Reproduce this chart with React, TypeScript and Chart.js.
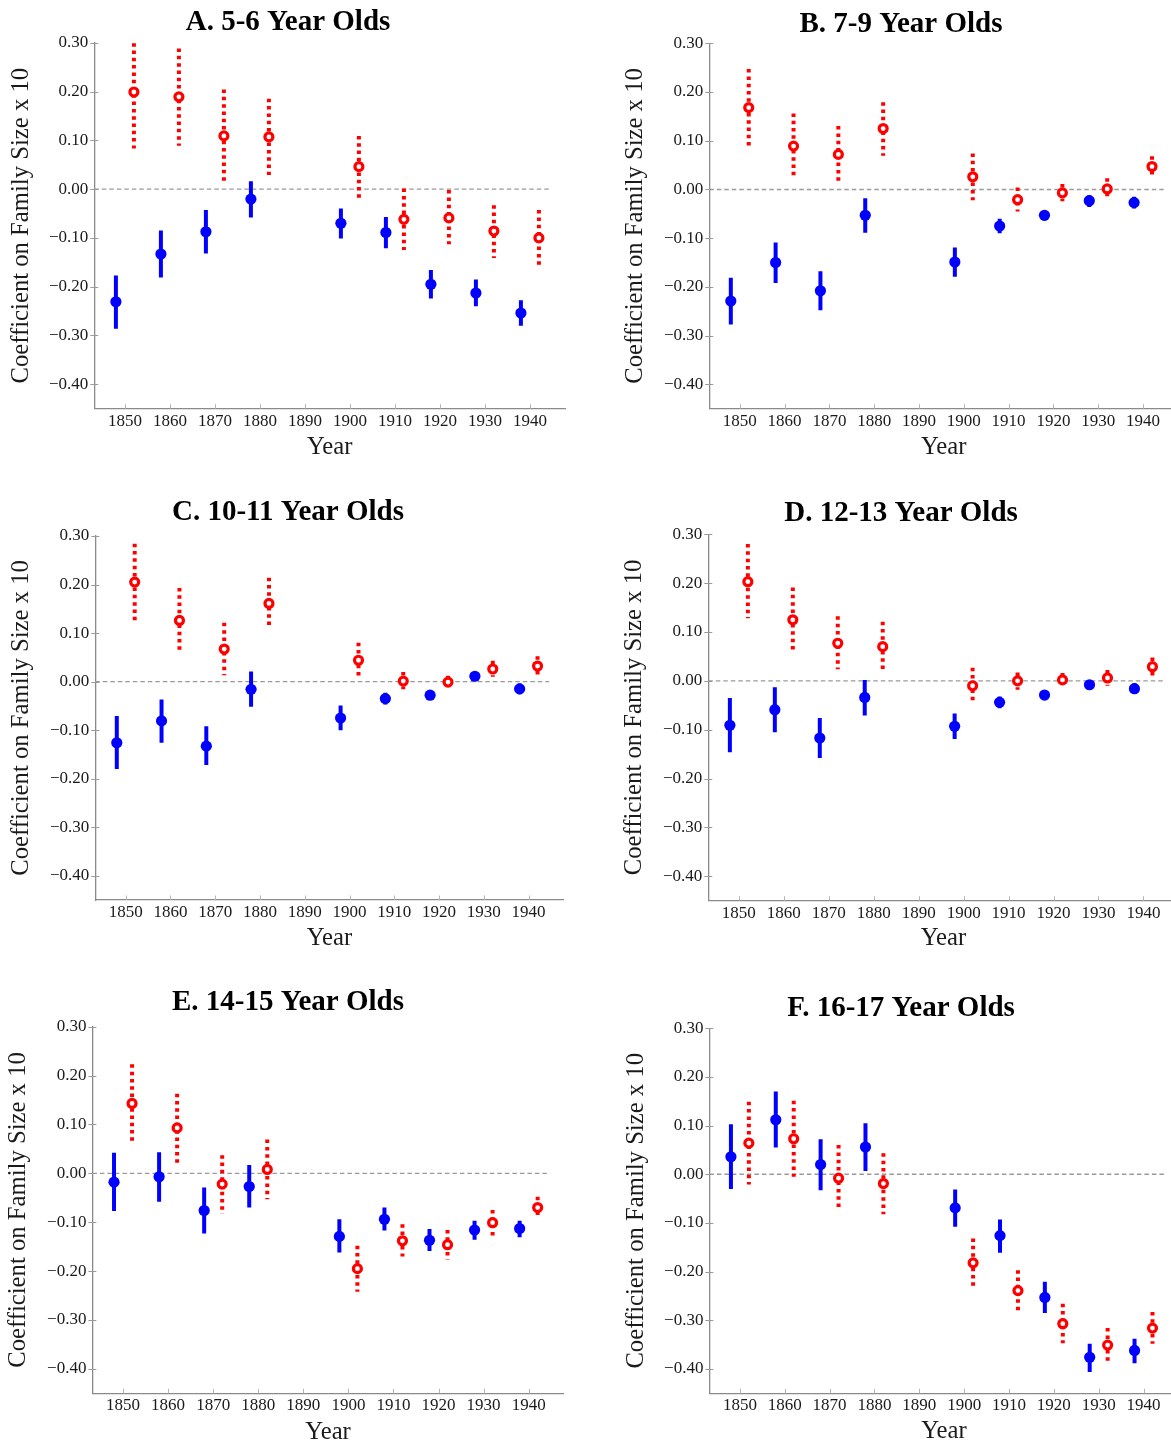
import React, { useEffect, useRef } from "react";
import { Chart, registerables } from "chart.js";

Chart.register(...registerables);

// ---------- data ----------
const blueYears = [1848, 1858, 1868, 1878, 1898, 1908, 1918, 1928, 1938];
const redYears = [1852, 1862, 1872, 1882, 1902, 1912, 1922, 1932, 1942];
const xTicks = [1850, 1860, 1870, 1880, 1890, 1900, 1910, 1920, 1930, 1940];
const yTicks = [0.3, 0.2, 0.1, 0, -0.1, -0.2, -0.3, -0.4];
const titles = [
  "A. 5-6 Year Olds",
  "B. 7-9 Year Olds",
  "C. 10-11 Year Olds",
  "D. 12-13 Year Olds",
  "E. 14-15 Year Olds",
  "F. 16-17 Year Olds",
];
const yAxisTitle = "Coefficient on Family Size x 10";
const xAxisTitle = "Year";

// Panel A
const aBlue = [-0.231, -0.133, -0.0875, -0.0205, -0.07, -0.089, -0.195, -0.213, -0.254];
const aBlueHi = [-0.177, -0.085, -0.043, 0.016, -0.04, -0.057, -0.166, -0.185, -0.228];
const aBlueLo = [-0.286, -0.181, -0.132, -0.058, -0.101, -0.121, -0.224, -0.24, -0.28];
const aRed = [0.199, 0.189, 0.109, 0.107, 0.046, -0.062, -0.059, -0.086, -0.1];
const aRedHi = [0.299, 0.288, 0.204, 0.185, 0.109, 0.001, -0.002, -0.033, -0.043];
const aRedLo = [0.083, 0.089, 0.014, 0.029, -0.018, -0.125, -0.113, -0.141, -0.157];

// Panel B
const bBlue = [-0.229, -0.15, -0.208, -0.053, -0.149, -0.075, -0.053, -0.023, -0.027];
const bBlueHi = [-0.181, -0.109, -0.168, -0.018, -0.119, -0.06, -0.044, -0.012, -0.015];
const bBlueLo = [-0.277, -0.192, -0.248, -0.089, -0.179, -0.09, -0.063, -0.036, -0.039];
const bRed = [0.168, 0.089, 0.072, 0.125, 0.026, -0.021, -0.007, 0.001, 0.047];
const bRedHi = [0.247, 0.156, 0.13, 0.179, 0.074, 0.004, 0.011, 0.023, 0.068];
const bRedLo = [0.089, 0.023, 0.014, 0.069, -0.022, -0.045, -0.024, -0.022, 0.025];

// Panel C
const cBlue = [-0.126, -0.081, -0.133, -0.016, -0.075, -0.035, -0.028, 0.011, -0.015];
const cBlueHi = [-0.071, -0.037, -0.092, 0.021, -0.049, -0.023, -0.019, 0.02, -0.004];
const cBlueLo = [-0.18, -0.126, -0.172, -0.052, -0.1, -0.047, -0.037, 0.003, -0.026];
const cRed = [0.205, 0.126, 0.067, 0.161, 0.044, 0.001, -0.001, 0.026, 0.032];
const cRedHi = [0.284, 0.193, 0.121, 0.214, 0.08, 0.02, 0.012, 0.043, 0.052];
const cRedLo = [0.126, 0.06, 0.013, 0.111, 0.008, -0.016, -0.014, 0.01, 0.012];

// Panel D
const dBlue = [-0.091, -0.059, -0.117, -0.034, -0.093, -0.044, -0.029, -0.008, -0.016];
const dBlueHi = [-0.035, -0.013, -0.076, 0.002, -0.067, -0.032, -0.02, 0.0, -0.005];
const dBlueLo = [-0.146, -0.105, -0.158, -0.071, -0.119, -0.056, -0.037, -0.016, -0.027];
const dRed = [0.203, 0.125, 0.077, 0.07, -0.01, 0.0, 0.002, 0.006, 0.029];
const dRedHi = [0.28, 0.191, 0.132, 0.121, 0.027, 0.017, 0.016, 0.022, 0.048];
const dRedLo = [0.128, 0.059, 0.024, 0.019, -0.046, -0.018, -0.012, -0.01, 0.011];

// Panel E
const eBlue = [-0.018, -0.007, -0.076, -0.027, -0.129, -0.094, -0.137, -0.116, -0.113];
const eBlueHi = [0.042, 0.043, -0.029, 0.017, -0.094, -0.07, -0.114, -0.097, -0.097];
const eBlueLo = [-0.077, -0.058, -0.123, -0.07, -0.162, -0.117, -0.159, -0.136, -0.131];
const eRed = [0.143, 0.093, -0.022, 0.008, -0.195, -0.138, -0.146, -0.101, -0.07];
const eRedHi = [0.223, 0.163, 0.037, 0.069, -0.148, -0.104, -0.116, -0.075, -0.048];
const eRedLo = [0.063, 0.02, -0.083, -0.053, -0.242, -0.17, -0.177, -0.127, -0.092];

// Panel F
const fBlue = [0.036, 0.112, 0.02, 0.056, -0.069, -0.126, -0.253, -0.376, -0.362];
const fBlueHi = [0.103, 0.17, 0.072, 0.105, -0.031, -0.093, -0.221, -0.348, -0.338];
const fBlueLo = [-0.03, 0.055, -0.033, 0.007, -0.108, -0.161, -0.285, -0.406, -0.388];
const fRed = [0.064, 0.073, -0.008, -0.019, -0.182, -0.239, -0.307, -0.351, -0.316];
const fRedHi = [0.149, 0.151, 0.06, 0.043, -0.132, -0.197, -0.266, -0.316, -0.283];
const fRedLo = [-0.021, -0.005, -0.075, -0.082, -0.23, -0.281, -0.347, -0.388, -0.348];

const X_MIN = 1843.2;
const X_MAX = 1947.8;
const ZERO_END = 1944.6;
const Y_MIN = -0.45;
const Y_MAX = 0.3;

const panelData = [
  { blue: aBlue, blueHi: aBlueHi, blueLo: aBlueLo, red: aRed, redHi: aRedHi, redLo: aRedLo },
  { blue: bBlue, blueHi: bBlueHi, blueLo: bBlueLo, red: bRed, redHi: bRedHi, redLo: bRedLo },
  { blue: cBlue, blueHi: cBlueHi, blueLo: cBlueLo, red: cRed, redHi: cRedHi, redLo: cRedLo },
  { blue: dBlue, blueHi: dBlueHi, blueLo: dBlueLo, red: dRed, redHi: dRedHi, redLo: dRedLo },
  { blue: eBlue, blueHi: eBlueHi, blueLo: eBlueLo, red: eRed, redHi: eRedHi, redLo: eRedLo },
  { blue: fBlue, blueHi: fBlueHi, blueLo: fBlueLo, red: fRed, redHi: fRedHi, redLo: fRedLo },
];

// ---------- layout / style ----------
const CANVAS_H = 470;
const geom = [
  { left: 0, top: 0, w: 576, tc: 288, area: { l: 94.3, t: 42.7, r: 565, b: 408.7 }, titleY: 22.5, yTitleX: 21.3, xTitleY: 447.5 },
  { left: 612, top: 0, w: 578, tc: 289, area: { l: 97.3, t: 43.3, r: 566, b: 408.7 }, titleY: 24.5, yTitleX: 24, xTitleY: 447.3 },
  { left: 0, top: 490, w: 576, tc: 288, area: { l: 95.3, t: 46, r: 563.5, b: 410 }, titleY: 22.5, yTitleX: 22, xTitleY: 449 },
  { left: 612, top: 490, w: 578, tc: 289, area: { l: 96.3, t: 44.3, r: 566.5, b: 410.7 }, titleY: 24, yTitleX: 22.8, xTitleY: 449 },
  { left: 0, top: 980, w: 576, tc: 288, area: { l: 92.4, t: 46.7, r: 563.8, b: 413.3 }, titleY: 22.5, yTitleX: 19, xTitleY: 452.3 },
  { left: 612, top: 980, w: 578, tc: 289, area: { l: 97.4, t: 48.3, r: 566.5, b: 413.3 }, titleY: 28.3, yTitleX: 24.6, xTitleY: 452 },
];

const BLUE = "#0000ff";
const RED = "#ff0000";
const AXIS = "#8a8a8a";
const SERIF = "'Liberation Serif', 'DejaVu Serif', serif";
const TITLE_SIZE = 29;
const TICK_SIZE = 17;
const AXIS_TITLE_SIZE = 24.7;
const Y_TITLE_LH = 0.4;

const fmtY = (v: number) => {
  const r = Math.round(v * 100) / 100;
  if (Math.abs(r) < 1e-9) return "0.00";
  return (r < 0 ? "\u2212" : "") + Math.abs(r).toFixed(2);
};

const tickMarks = {
  id: "tickMarks",
  beforeDatasetsDraw(chart: any) {
    const { ctx, chartArea, scales } = chart;
    ctx.save();
    ctx.strokeStyle = "#b5b5b5";
    ctx.lineWidth = 1;
    xTicks.forEach((v) => {
      const px = Math.round(scales.x.getPixelForValue(v)) + 0.5;
      ctx.beginPath();
      ctx.moveTo(px, chartArea.bottom);
      ctx.lineTo(px, chartArea.bottom - 4.5);
      ctx.stroke();
    });
    ctx.strokeStyle = "#9a9a9a";
    yTicks.forEach((v) => {
      const py = Math.round(scales.y.getPixelForValue(v)) + 0.5;
      ctx.beginPath();
      ctx.moveTo(chartArea.left - 4, py);
      ctx.lineTo(chartArea.left + 4, py);
      ctx.stroke();
    });
    ctx.restore();
  },
};

function buildDatasets(p: any) {
  const ds: any[] = [];
  ds.push({
    data: blueYears.map((x, i) => ({ x, y: p.blue[i] })),
    pointStyle: "circle",
    pointRadius: 5.6,
    pointBackgroundColor: BLUE,
    pointBorderColor: BLUE,
    pointBorderWidth: 0,
    showLine: false,
    order: 0,
  });
  ds.push({
    data: redYears.map((x, i) => ({ x, y: p.red[i] })),
    pointStyle: "circle",
    pointRadius: 4,
    pointBackgroundColor: "#ffffff",
    pointBorderColor: RED,
    pointBorderWidth: 3.2,
    showLine: false,
    order: 0,
  });
  blueYears.forEach((x, i) => {
    ds.push({
      data: [
        { x, y: p.blueHi[i] },
        { x, y: p.blueLo[i] },
      ],
      showLine: true,
      borderColor: BLUE,
      borderWidth: 4,
      borderCapStyle: "butt",
      pointRadius: 0,
      order: 1,
    });
  });
  redYears.forEach((x, i) => {
    ds.push({
      data: [
        { x, y: p.redHi[i] },
        { x, y: p.redLo[i] },
      ],
      showLine: true,
      borderColor: RED,
      borderWidth: 4,
      borderDash: [3.5, 3.8],
      borderCapStyle: "butt",
      pointRadius: 0,
      order: 1,
    });
  });
  ds.push({
    data: [
      { x: X_MIN, y: 0 },
      { x: ZERO_END, y: 0 },
    ],
    showLine: true,
    borderColor: "#9a9a9a",
    borderWidth: 1.4,
    borderDash: [4.5, 3],
    pointRadius: 0,
    order: 2,
  });
  return ds;
}

function Panel({ index }: { index: number }) {
  const ref = useRef<HTMLCanvasElement | null>(null);
  const g = geom[index];
  useEffect(() => {
    if (!ref.current) return;
    const titleLH = TITLE_SIZE * 1.2;
    const t1 = g.titleY - titleLH / 2;
    const t2 = g.area.t - t1 - titleLH;
    const padR = g.w - g.area.r;
    const padL = 2 * g.tc - g.area.r;
    const chart = new Chart(ref.current, {
      type: "scatter",
      data: { datasets: buildDatasets(panelData[index]) },
      options: {
        responsive: false,
        animation: false,
        devicePixelRatio: 1,
        events: [],
        layout: { padding: { left: padL, top: 0, bottom: 0, right: padR } },
        plugins: {
          legend: { display: false },
          tooltip: { enabled: false },
          title: {
            display: true,
            text: titles[index],
            color: "#000",
            font: { family: SERIF, size: TITLE_SIZE, weight: "bold", lineHeight: 1.2 },
            padding: { top: t1, bottom: t2 },
          },
        },
        scales: {
          x: {
            type: "linear",
            min: X_MIN,
            max: X_MAX,
            afterBuildTicks: (s: any) => {
              s.ticks = xTicks.map((v) => ({ value: v }));
            },
            afterFit: (s: any) => {
              s.height = CANVAS_H - g.area.b;
            },
            ticks: {
              autoSkip: false,
              maxRotation: 0,
              padding: 2.5,
              color: "#1a1a1a",
              font: { family: SERIF, size: TICK_SIZE },
              callback: (v: any) => String(v),
            },
            grid: { display: false, drawTicks: false, tickLength: 0 },
            border: { display: true, color: AXIS, width: 1.3 },
            title: {
              display: true,
              text: xAxisTitle,
              color: "#1a1a1a",
              font: { family: SERIF, size: AXIS_TITLE_SIZE, lineHeight: 1 },
              padding: { top: 0, bottom: CANVAS_H - g.xTitleY - AXIS_TITLE_SIZE / 2 },
            },
          },
          y: {
            type: "linear",
            min: Y_MIN,
            max: Y_MAX,
            afterBuildTicks: (s: any) => {
              s.ticks = yTicks.map((v) => ({ value: v }));
            },
            afterFit: (s: any) => {
              s.width = g.area.l - padL;
            },
            ticks: {
              padding: 6,
              color: "#1a1a1a",
              font: { family: SERIF, size: TICK_SIZE },
              callback: (v: any) => fmtY(Number(v)),
            },
            grid: { display: false, drawTicks: false, tickLength: 0 },
            border: { display: true, color: AXIS, width: 1.3 },
            title: {
              display: true,
              text: yAxisTitle,
              color: "#1a1a1a",
              font: { family: SERIF, size: AXIS_TITLE_SIZE, lineHeight: Y_TITLE_LH },
              padding: { top: g.yTitleX - padL - (AXIS_TITLE_SIZE * Y_TITLE_LH) / 2, bottom: 0 },
            },
          },
        },
      } as any,
      plugins: [tickMarks],
    });
    return () => chart.destroy();
  }, [index]);
  return (
    <canvas
      ref={ref}
      width={g.w}
      height={CANVAS_H}
      style={{ position: "absolute", left: g.left, top: g.top, width: g.w, height: CANVAS_H }}
    />
  );
}

export default function App() {
  return (
    <div
      style={{
        position: "fixed",
        left: 0,
        top: 0,
        width: 1171,
        height: 1441,
        overflow: "hidden",
        background: "#ffffff",
      }}
    >
      {geom.map((_, i) => (
        <Panel key={i} index={i} />
      ))}
    </div>
  );
}
